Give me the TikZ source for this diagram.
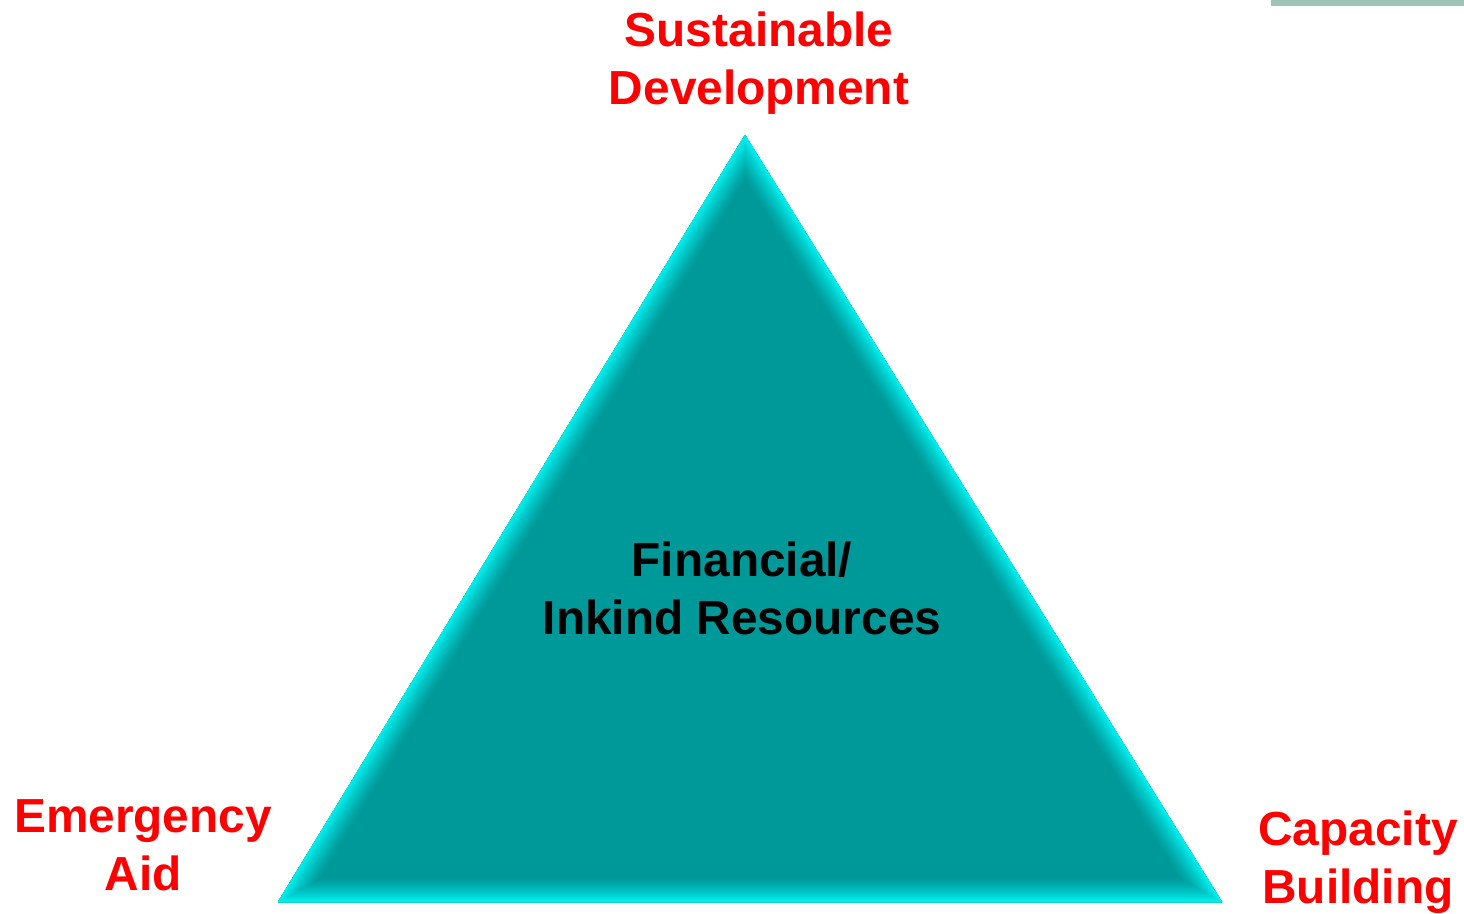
\documentclass[tikz,border=0pt]{standalone}
\usepackage{fontspec}
\setmainfont{Liberation Sans}
\usepackage{xcolor}
\usetikzlibrary{calc, positioning}
\definecolor{tealface}{HTML}{009999}
\definecolor{tealedge}{HTML}{00EEEE}
\definecolor{topbar}{HTML}{9EC4B8}
\definecolor{labelred}{HTML}{FF0000}
\tikzset{
    corner/.style={font=\bfseries\fontsize{27.2}{33}\selectfont, color=labelred, align=center},
    centre/.style={font=\bfseries\fontsize{27.2}{33}\selectfont, color=black, align=center}
}

\begin{document}
\begin{tikzpicture}[x=0.2mm, y=-0.2mm]
    \useasboundingbox (0,0) rectangle (1464,913);

    \coordinate (Top) at (745,135);
    \coordinate (Left) at (278,902);
    \coordinate (Right) at (1222,902);

    % Top bar
    \fill[topbar] (1271,0) rectangle (1464,6);

    % Triangle with bevelled edge
    \fill[tealface] (Top) -- (Left) -- (Right) -- cycle;
    \begin{scope}
        \clip (Top) -- (Left) -- (Right) -- cycle;
        \foreach \k in {0,...,24} {
            \pgfmathsetmacro{\mix}{100*(1-(\k/24)^1.3)}
            \draw[line width={(50-2*\k)*0.2mm}, miter limit=20, color=tealface!\mix!tealedge]
                (Top) -- (Left) -- (Right) -- cycle;
        }
    \end{scope}

    % Labels
    \node[corner] (sust) at (759,63) {Sustainable\\Development};
    \node[corner] (emerg) at (143,845) {Emergency\\Aid};
    \node[corner] (capac) at (1358,862) {Capacity\\Building};
    \node[centre] (fin) at (742,588) {Financial/\\Inkind Resources};
\end{tikzpicture}
\end{document}
